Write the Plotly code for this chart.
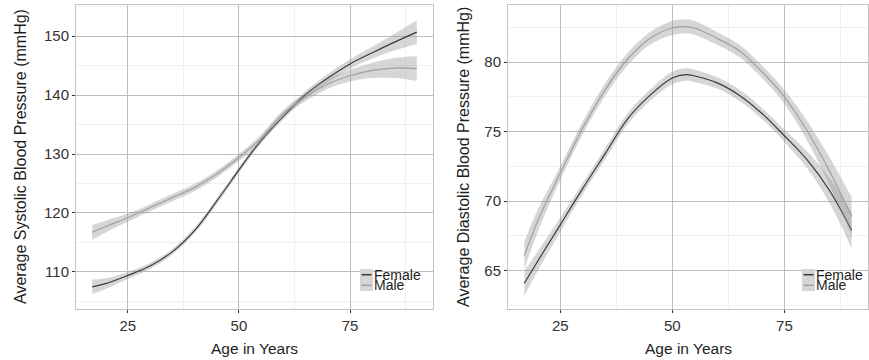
import plotly.graph_objects as go

# ---- data ----
age = [17, 20, 25, 30, 35, 40, 45, 50, 53, 55, 60, 65, 70, 75, 80, 85, 90]

sys_female = [107.45, 108.0, 109.4, 111.0, 113.4, 117.0, 122.0, 127.3, 130.4, 132.3, 136.4, 140.1, 142.9, 145.3, 147.2, 149.0, 150.7]
sys_female_se = [1.2, 0.9, 0.6, 0.5, 0.5, 0.5, 0.5, 0.5, 0.5, 0.5, 0.5, 0.6, 0.7, 0.8, 1.0, 1.4, 2.0]
sys_male = [116.7, 117.7, 119.2, 120.9, 122.6, 124.3, 126.6, 129.4, 131.3, 132.7, 136.9, 139.7, 141.9, 143.3, 144.2, 144.6, 144.5]
sys_male_se = [1.3, 1.0, 0.7, 0.6, 0.6, 0.6, 0.6, 0.6, 0.6, 0.6, 0.6, 0.7, 0.8, 1.0, 1.3, 1.7, 2.1]

dia_female = [64.1, 65.7, 68.3, 70.9, 73.4, 75.9, 77.6, 78.85, 79.1, 79.0, 78.5, 77.6, 76.3, 74.7, 73.0, 70.8, 67.9]
dia_female_se = [0.9, 0.7, 0.5, 0.4, 0.4, 0.4, 0.4, 0.45, 0.45, 0.45, 0.4, 0.4, 0.4, 0.45, 0.6, 0.9, 1.3]
dia_male = [66.1, 68.6, 72.0, 75.25, 78.0, 80.2, 81.7, 82.45, 82.55, 82.45, 81.7, 80.8, 79.3, 77.5, 75.1, 72.2, 68.9]
dia_male_se = [1.0, 0.8, 0.5, 0.45, 0.45, 0.45, 0.45, 0.5, 0.5, 0.5, 0.45, 0.45, 0.45, 0.5, 0.7, 1.0, 1.4]

groups = ["Female", "Male"]
x_ticks = [25, 50, 75]
sys_ticks = [110, 120, 130, 140, 150]
dia_ticks = [65, 70, 75, 80]

FEMALE_COL = "#3a3a3a"
MALE_COL = "#a0a0a0"
RIBBON = "rgba(153,153,153,0.4)"
KEY_BG = "#d6d6d6"
FONT = "Liberation Sans, Arial, sans-serif"
TXT = "#1e1e1e"

fig = go.Figure()


def add_group(xaxis, yaxis, y, se, color, name):
    upper = [v + s for v, s in zip(y, se)]
    lower = [v - s for v, s in zip(y, se)]
    fig.add_trace(go.Scatter(x=age, y=lower, mode="lines", line=dict(width=0, shape="spline"),
                             hoverinfo="skip", showlegend=False, xaxis=xaxis, yaxis=yaxis))
    fig.add_trace(go.Scatter(x=age, y=upper, mode="lines", line=dict(width=0, shape="spline"),
                             fill="tonexty", fillcolor=RIBBON, hoverinfo="skip", showlegend=False,
                             xaxis=xaxis, yaxis=yaxis))
    fig.add_trace(go.Scatter(x=age, y=y, mode="lines", name=name,
                             line=dict(color=color, width=1.2, shape="spline"),
                             xaxis=xaxis, yaxis=yaxis, showlegend=False))


add_group("x", "y", sys_female, sys_female_se, FEMALE_COL, "Female")
add_group("x", "y", sys_male, sys_male_se, MALE_COL, "Male")
add_group("x2", "y2", dia_female, dia_female_se, FEMALE_COL, "Female")
add_group("x2", "y2", dia_male, dia_male_se, MALE_COL, "Male")

W, H = 869, 360
ML, MR, MT, MB = 76, 1, 5, 51
pw = W - ML - MR
ph = H - MT - MB


def px(xp):
    return (xp - ML) / pw


def py(yp):
    return (H - MB - yp) / ph


axis_common = dict(
    showgrid=True, gridcolor="#bdbdbd", gridwidth=1,
    showline=True, linecolor="#c4c4c4", linewidth=1, mirror=True,
    ticks="outside", ticklen=3, tickcolor="#333333",
    tickfont=dict(family=FONT, size=15, color="#333333"),
    zeroline=False,
)
minor_x = dict(tickvals=[37.5, 62.5, 87.5], showgrid=True, gridcolor="#f0f0f0", ticks="")

fig.update_layout(
    width=W, height=H,
    margin=dict(l=ML, r=MR, t=MT, b=MB),
    paper_bgcolor="white", plot_bgcolor="white",
    font=dict(family=FONT, size=14, color=TXT),
    showlegend=False,
    xaxis=dict(domain=[0, px(433)], range=[13.35, 93.65], tickvals=x_ticks,
               minor=minor_x, anchor="y", **axis_common),
    yaxis=dict(domain=[0, 1], range=[103.7, 155.3], tickvals=sys_ticks,
               minor=dict(tickvals=[105, 115, 125, 135, 145, 155], showgrid=True, gridcolor="#f0f0f0", ticks=""),
               anchor="x", **axis_common),
    xaxis2=dict(domain=[px(508), 1], range=[13.35, 93.65], tickvals=x_ticks,
                minor=minor_x, anchor="y2", **axis_common),
    yaxis2=dict(domain=[0, 1], range=[62.25, 84.1], tickvals=dia_ticks,
                minor=dict(tickvals=[62.5, 67.5, 72.5, 77.5, 82.5], showgrid=True, gridcolor="#f0f0f0", ticks=""),
                anchor="x2", **axis_common),
)

# axis titles
for xr in ["x", "x2"]:
    fig.add_annotation(text="Age in Years", xref=xr, yref="paper", x=53.5, y=py(348), yanchor="middle",
                       showarrow=False, font=dict(family=FONT, size=15.5, color=TXT))
fig.add_annotation(text="Average Systolic Blood Pressure (mmHg)", xref="paper", yref="paper",
                   x=px(20), y=py(157), textangle=-90, xanchor="center", yanchor="middle",
                   showarrow=False, font=dict(family=FONT, size=16, color=TXT))
fig.add_annotation(text="Average Diastolic Blood Pressure (mmHg)", xref="paper", yref="paper",
                   x=px(463), y=py(157), textangle=-90, xanchor="center", yanchor="middle",
                   showarrow=False, font=dict(family=FONT, size=16, color=TXT))

# legends (ggplot-style inside keys)
legend_specs = [(360, 269), (802, 269)]
colors = [FEMALE_COL, MALE_COL]
for lx, ly in legend_specs:
    fig.add_shape(type="rect", xref="paper", yref="paper",
                  x0=px(lx), x1=px(lx + 13), y0=py(ly), y1=py(ly + 22),
                  fillcolor=KEY_BG, line=dict(width=0), layer="above")
    for i, (g, c) in enumerate(zip(groups, colors)):
        yy = ly + 5.7 + i * 10.6
        fig.add_shape(type="line", xref="paper", yref="paper",
                      x0=px(lx + 1.5), x1=px(lx + 11.5), y0=py(yy), y1=py(yy),
                      line=dict(color=c, width=1.5), layer="above")
        fig.add_annotation(text=g, xref="paper", yref="paper", x=px(lx + 12.5), y=py(yy),
                           xanchor="left", yanchor="middle", showarrow=False, borderpad=0,
                           font=dict(family=FONT, size=14, color=TXT))

fig.write_html("out.html", config={"displayModeBar": False},
               post_script="document.body.style.margin='0';document.body.style.padding='0';")
